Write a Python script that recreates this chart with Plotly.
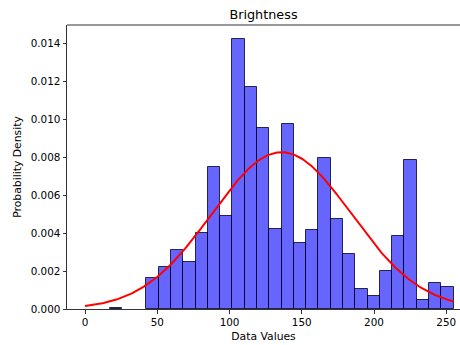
import numpy as np
import plotly.graph_objects as go

# Histogram bins (30 bins from 0 to 255)
bin_start = 0.0
bin_width = 8.5
densities = [0, 0, 0.00004, 0, 0,
             0.00164, 0.00220, 0.00310, 0.00250, 0.00400,
             0.00748, 0.00491, 0.01423, 0.01169, 0.00951,
             0.00419, 0.00974, 0.00350, 0.00415, 0.00798,
             0.00472, 0.00289, 0.00104, 0.00070, 0.00200,
             0.00382, 0.00787, 0.00049, 0.00139, 0.00118]

# Fitted normal curve parameters
fit_mean = 136.0
fit_std = 48.3
curve_min, curve_max = 0, 255

x_ticks = [0, 50, 100, 150, 200, 250]
y_ticks = [0.000, 0.002, 0.004, 0.006, 0.008, 0.010, 0.012, 0.014]

centers = [bin_start + bin_width * (i + 0.5) for i in range(len(densities))]

xc = np.linspace(curve_min, curve_max, 300)
yc = np.exp(-0.5 * ((xc - fit_mean) / fit_std) ** 2) / (fit_std * np.sqrt(2 * np.pi))

fig = go.Figure()
fig.add_trace(go.Bar(
    x=centers, y=[d if d > 0 else None for d in densities], width=bin_width,
    marker=dict(color="rgba(0,0,255,0.6)", line=dict(color="rgba(0,0,40,0.8)", width=1)),
    showlegend=False,
))
fig.add_trace(go.Scatter(
    x=xc, y=yc, mode="lines", line=dict(color="red", width=2), showlegend=False,
))

font = "DejaVu Sans, sans-serif"
fig.update_layout(
    width=460, height=345,
    margin=dict(l=67, r=0, t=25, b=36),
    paper_bgcolor="white", plot_bgcolor="white",
    bargap=0,
    font=dict(family=font, size=10.4, color="black"),
    title=dict(text="Brightness", x=(67 + 460) / 2 / 460, xanchor="center",
               y=1 - 15 / 345, yanchor="middle", font=dict(size=12.8, family=font, color="black")),
    shapes=[dict(type="line", xref="paper", yref="paper", x0=0, x1=1, y0=1, y1=1,
                 line=dict(color="#333333", width=1))],
)
fig.update_xaxes(
    range=[-12.5, 259.5], tickvals=x_ticks, ticktext=[str(v) for v in x_ticks],
    showline=True, linecolor="#333333", linewidth=1, ticks="outside", ticklen=3.5,
    tickcolor="#333333", showgrid=False, zeroline=False,
    title=dict(text="Data Values", font=dict(size=10.8), standoff=5),
    tickfont=dict(size=10.4),
)
fig.update_yaxes(
    range=[0, 0.01496], tickvals=y_ticks, ticktext=[f"{v:.3f}" for v in y_ticks],
    showline=True, linecolor="#333333", linewidth=1, ticks="outside", ticklen=3.5,
    tickcolor="#333333", showgrid=False, zeroline=False,
    title=dict(text="Probability Density", font=dict(size=10.8), standoff=6),
    tickfont=dict(size=10.4),
)

fig.write_html("out.html")
